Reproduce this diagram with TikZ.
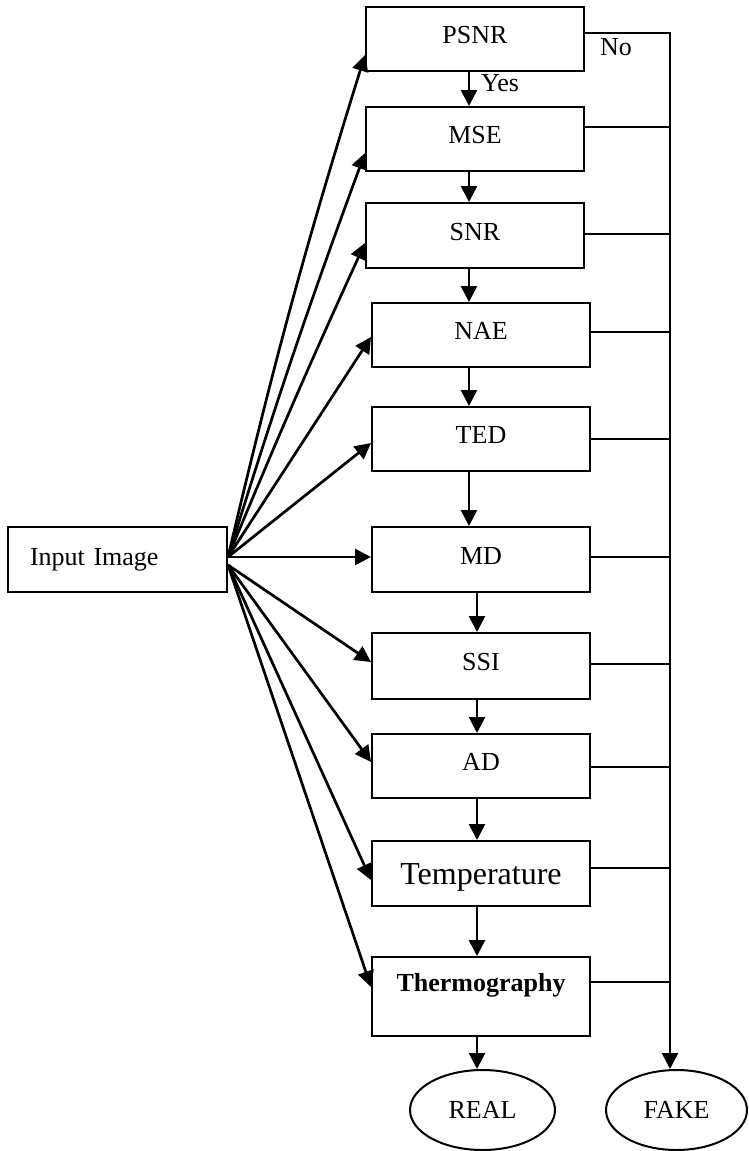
\documentclass[tikz,border=0pt]{standalone}
\usepackage{fontspec}
\setmainfont{Liberation Serif}
\usetikzlibrary{arrows.meta,shapes.geometric,calc}

\begin{document}
\begin{tikzpicture}[x=1pt,y=-1pt,
  every node/.style={font=\fontsize{26}{31}\selectfont},
  stage/.style={draw,line width=2pt,minimum width=218pt,minimum height=64pt,
    inner sep=0pt,text height=17pt,text depth=8pt},
  outcome/.style={draw,ellipse,line width=2pt,inner sep=0pt,minimum height=80pt},
  flow/.style={line width=2.7pt,-{Triangle[length=16pt,width=16pt]}},
  tap/.style={line width=2pt}]
\useasboundingbox (0,0) rectangle (748,1151);

% measurement stages
\node[stage] (psnr) at (475,39)    {PSNR};
\node[stage] (mse)  at (475,139)   {MSE};
\node[stage,minimum height=65pt] (snr) at (475,235.5) {SNR};
\node[stage] (nae)  at (481,335)   {NAE};
\node[stage] (ted)  at (481,439)   {TED};
\node[stage,minimum height=65pt] (md)  at (481,559.5) {MD};
\node[stage,minimum height=66pt] (ssi) at (481,666)   {SSI};
\node[stage] (ad)   at (481,766)   {AD};
\node[stage,minimum height=65pt,text height=21pt,text depth=0pt,
  font=\fontsize{32}{38}\selectfont] (temp) at (481,873.5) {Temperature};
\node[stage,minimum height=79pt,text height=17pt,text depth=27pt,
  font=\fontsize{26}{31}\selectfont\bfseries] (thermo) at (481,996.5) {Thermography};

% source
\node[stage,minimum width=219pt,minimum height=65pt,text width=175pt,align=left,
  inner xsep=22pt,text height=17pt,text depth=5pt] (input) at (117.5,559.5) {Input Image};

% outcomes
\node[outcome,minimum width=145pt] (real) at (482.5,1110) {REAL};
\node[outcome,minimum width=141pt] (fake) at (676.5,1110) {FAKE};

% helper coordinates
\coordinate (fu) at ([yshift=2.5pt]input.east);
\coordinate (fd) at ([yshift=-5.5pt]input.east);
\coordinate (ca) at (469,0);
\coordinate (cb) at (477,0);
\coordinate (fx) at (670,0);

% fan of arrows from the input image
\draw[flow] (fu) to[bend left=2] ([yshift=-16pt]psnr.west);
\draw[flow] (fu) to[bend left=1.5] ([yshift=-14pt]mse.west);
\draw[flow] (fu) to[bend left=1] ([yshift=-7.5pt]snr.west);
\draw[flow] (fu) -- ([yshift=-2pt]nae.west);
\draw[flow] (fu) -- ([yshift=-4pt]ted.west);
\draw[flow] (fu) -- ([yshift=2.5pt]md.west);
\draw[flow] (fd) -- ([yshift=4pt]ssi.west);
\draw[flow] (fd) -- ([yshift=4pt]ad.west);
\draw[flow] (fd) -- ([yshift=-6.5pt]temp.west);
\draw[flow] (fd) -- ([yshift=9.5pt]thermo.west);

% "yes" chain down the stages
\draw[flow] (psnr.south -| ca) -- (mse.north -| ca);
\draw[flow] (mse.south -| ca) -- (snr.north -| ca);
\draw[flow] (snr.south -| ca) -- (nae.north -| ca);
\draw[flow] (nae.south -| ca) -- (ted.north -| ca);
\draw[flow] (ted.south -| ca) -- (md.north -| ca);
\draw[flow] (md.south -| cb) -- (ssi.north -| cb);
\draw[flow] (ssi.south -| cb) -- (ad.north -| cb);
\draw[flow] (ad.south -| cb) -- (temp.north -| cb);
\draw[flow] (temp.south -| cb) -- (thermo.north -| cb);
\draw[flow] (thermo.south -| cb) -- (real.north -| cb);

% "no" branches to the fake bus
\foreach \s/\dy in {psnr/6,mse/12,snr/1.5,nae/3,ted/0,md/2.5,ssi/2,ad/-1,temp/5.5,thermo/14.5}
  \draw[tap] ([yshift=\dy pt]\s.east) -- ([yshift=\dy pt]\s.east -| fx);
\draw[flow] ([yshift=7pt]psnr.east -| fx) -- (fake.north -| fx);

% branch labels
\node (yes) at (500,83) {Yes};
\node (no)  at (616,47) {No};
\end{tikzpicture}
\end{document}
